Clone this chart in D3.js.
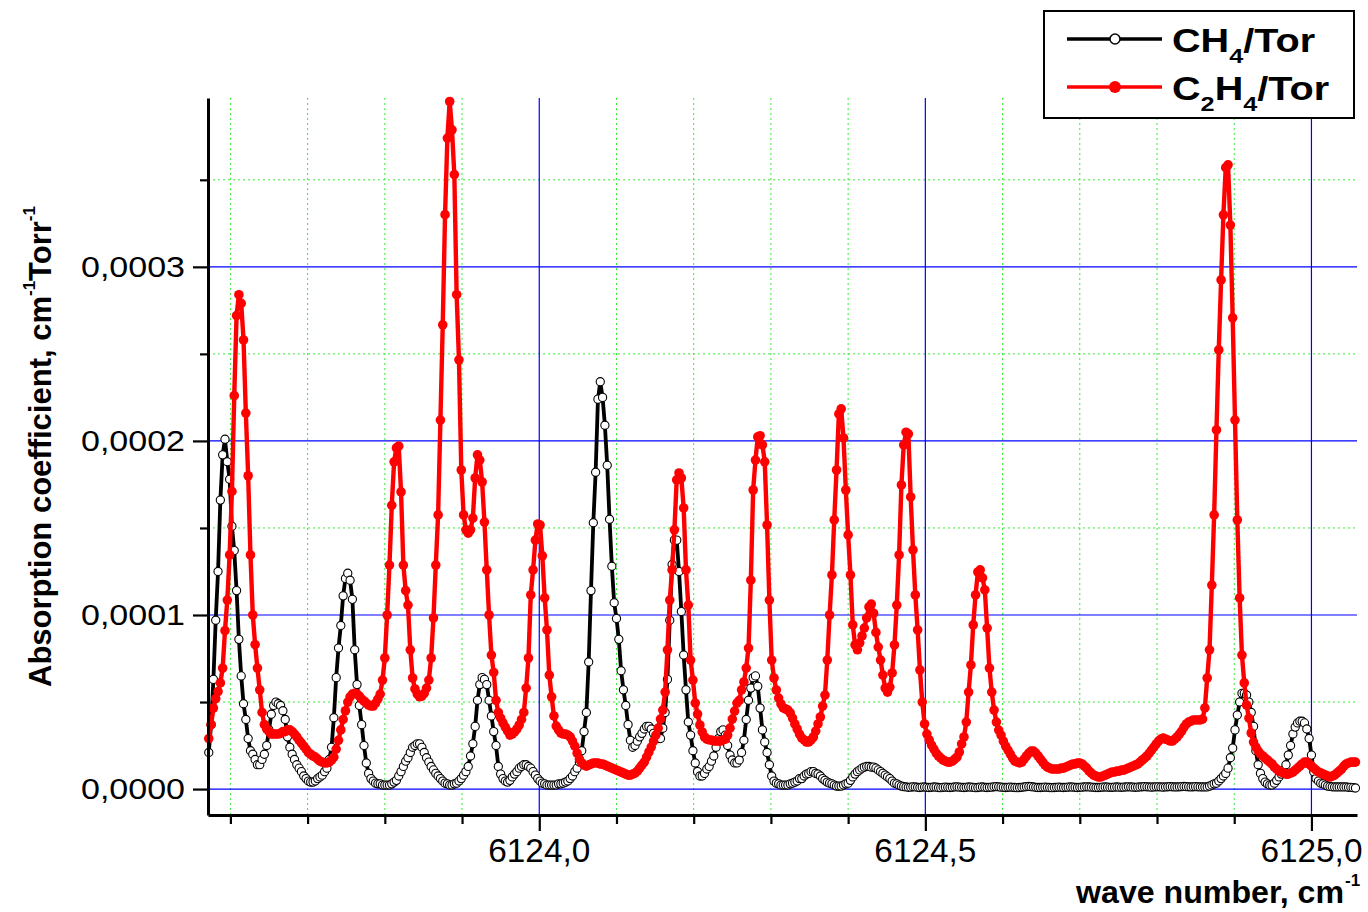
<!DOCTYPE html>
<html>
<head>
<meta charset="utf-8">
<script src="https://cdn.jsdelivr.net/npm/d3@7"></script>
<style>
  body { margin: 0; background: #fff; }
  svg { display: block; }
</style>
</head>
<body>
<svg id="chart" width="1368" height="912"></svg>
<script>
// Spectrum sampling grid (cm^-1)
const wnStart = 6123.572;
const wnStep = 0.003;

// Absorption coefficients in units of 1e-6 cm^-1 Torr^-1
const UNIT = 1e-6;

const ch4 = [
  21, 37, 63, 97, 125, 166, 192, 201, 188, 178,
  151, 137, 114, 86, 65, 49, 40, 29, 22, 20,
  17, 14, 14, 17, 20, 25, 34, 43, 48, 50,
  49, 48, 45, 40, 30, 24, 20, 17, 14, 12,
  10, 7.5, 6, 4.6, 4, 4, 4.6, 6, 7, 8,
  10, 12, 17, 24, 41, 64, 81, 94, 111, 121,
  124, 120, 109, 80, 60, 48, 37, 25, 15, 9,
  6, 4.6, 3.4, 3, 3, 2.3, 2.3, 2.3, 2.3, 3,
  4, 5, 7.5, 10, 13, 16, 18, 21, 24, 25,
  26, 26, 24, 21, 18, 15.5, 13, 11, 9, 7.5,
  6, 4.6, 3.4, 3, 2.3, 2.3, 3, 3.4, 4.6, 6,
  8, 10, 13, 19, 26, 36, 51, 60, 64, 63,
  60, 51, 42, 33, 25, 13, 8.6, 6, 4.6, 4,
  5, 7, 8.6, 10, 12, 13, 14, 14, 13, 12,
  10, 8, 6, 4.6, 3.4, 3, 2.3, 2.3, 2.3, 2.3,
  2.3, 3, 3, 3.4, 4, 4.6, 6, 7.5, 10, 12,
  15.5, 22, 33, 44, 73, 114, 153, 182, 224, 234,
  225, 209, 186, 155, 128, 107, 98, 86, 68, 57,
  48, 37, 28, 24, 25, 27.5, 30, 32, 34.5, 36,
  36, 34.5, 32, 30, 29, 29, 35, 44, 63, 97,
  129, 143, 143, 125, 102, 77, 57, 38.5, 31, 22,
  15, 10, 7.5, 7.5, 9, 11.5, 13, 16, 19, 24,
  29, 33, 34, 31, 25, 19.5, 16.7, 15, 15, 16.7,
  21, 28, 40, 51, 58, 64, 65, 59, 46.5, 34,
  27, 21, 14, 7.5, 4.6, 3.4, 3, 2.3, 2.3, 2.3,
  2.3, 3, 3.4, 4, 4.6, 6, 6, 7.5, 8.6, 9,
  10, 10, 9, 8.6, 7.5, 6, 5, 4, 3.4, 3,
  2.3, 1.7, 1.7, 1.7, 2.3, 3, 3.4, 5, 7, 8.6,
  10, 11, 12, 12.6, 13, 13, 12.6, 12.6, 12, 11,
  10, 9, 8, 7, 6, 4.6, 3.4, 3, 2.3, 1.7,
  1.4, 1.2, 1.0, 1.1, 1.3, 1.2, 1.0, 0.9, 1.1, 1.2,
  1.0, 0.9, 1.0, 1.2, 1.1, 0.9, 0.8, 1.0, 1.1, 1.0,
  0.9, 1.0, 1.2, 1.3, 1.1, 1.0, 0.9, 1.0, 1.2, 1.1,
  1.0, 0.8, 0.9, 1.1, 1.2, 1.0, 0.9, 1.0, 1.1, 1.3,
  1.4, 1.3, 1.1, 1.0, 0.9, 1.0, 1.1, 1.0, 0.9, 0.8,
  0.9, 1.0, 1.2, 1.4, 1.5, 1.4, 1.2, 1.0, 0.9, 0.9,
  1.0, 1.1, 1.0, 0.9, 0.8, 0.9, 1.0, 1.1, 1.0, 0.9,
  1.0, 1.1, 1.2, 1.1, 1.0, 0.9, 1.0, 1.1, 1.2, 1.3,
  1.2, 1.1, 1.0, 0.9, 0.9, 1.0, 1.1, 1.2, 1.1, 1.0,
  1.0, 1.1, 1.2, 1.1, 1.0, 1.1, 1.2, 1.3, 1.2, 1.1,
  1.0, 1.1, 1.2, 1.3, 1.4, 1.3, 1.2, 1.1, 1.2, 1.3,
  1.3, 1.2, 1.1, 1.2, 1.3, 1.4, 1.3, 1.2, 1.2, 1.3,
  1.4, 1.5, 1.4, 1.3, 1.2, 1.3, 1.4, 1.3, 1.2, 1.2,
  1.2, 1.2, 1.7, 2.3, 3, 3.4, 4.6, 6, 7.5, 9,
  12, 18, 23.5, 34, 42.5, 50, 55, 55, 54, 50,
  44, 36, 22, 14, 9, 6, 4, 3, 2.3, 2.3,
  3.4, 5, 7, 8.6, 11, 14, 19.5, 25, 31.6, 35.6,
  38, 39, 39, 38, 34.5, 29, 19.5, 10, 6, 4.6,
  3.4, 3, 2.3, 1.7, 1.5, 1.3, 1.2, 1.2, 1.2, 1.2,
  1.2, 1.2, 1.0, 1.0, 0.8, 0.6
];

const c2h4 = [
  29, 37, 46.5, 52, 56, 61, 69.5, 91, 108.6, 134.5,
  171, 226, 272, 284, 279, 258, 216, 180, 134.5, 100,
  83, 69.5, 57, 44, 37, 34.5, 33, 31.6, 31.6, 31.6,
  31.6, 32, 33, 33, 34, 34, 33, 31.6, 30, 28,
  26.4, 24.7, 23, 21, 20, 19, 18.4, 17.2, 16, 15.5,
  15, 15, 15.5, 16.7, 18.4, 23, 28, 34, 40, 45,
  50, 53, 54.6, 55, 54.6, 53.4, 51.7, 50.6, 49.4, 48.3,
  47.7, 47.7, 49.4, 51.7, 54.6, 62.6, 75.3, 100, 128.7, 163,
  188, 196, 197, 170.7, 128.7, 114, 105.7, 80, 63.8, 57.5,
  54.6, 53, 53.4, 55, 58, 62.6, 75.3, 98.3, 128.7, 157.5,
  212, 266.7, 330, 374, 395, 378.7, 353, 284, 246.6, 183.3,
  157.5, 148.9, 147, 148.9, 155.7, 178.7, 192, 189, 176.4, 153.4,
  125.9, 100, 77, 67, 51, 44, 40.8, 38, 35.6, 33.3,
  31, 31.6, 32.8, 34.5, 36.8, 40, 44, 58, 75.3, 111.5,
  125.9, 143, 152.3, 151.7, 134, 109.8, 91.4, 65.5, 53, 42,
  36.2, 34, 32.2, 31.6, 31.6, 31, 30, 27.6, 24.7, 20.7,
  17.2, 15, 13.8, 13.2, 13.8, 14.4, 15, 15, 15, 14.4,
  14.4, 13.8, 13.2, 12.6, 12, 11.5, 10.9, 10.3, 9.8, 9.2,
  8.6, 8, 8, 8.6, 9.2, 10.3, 12, 13.8, 15.5, 18.4,
  21.3, 24.1, 27.6, 31, 35, 40.2, 45.4, 55.7, 80, 108.6,
  125.9, 148.9, 177.6, 181.6, 178.7, 161.5, 125.9, 105.7, 74.1, 62.6,
  49.4, 43.1, 36.8, 32.8, 29.9, 28.7, 28.2, 28.2, 27.6, 27.6,
  27.6, 27.6, 28.2, 28.7, 31, 35, 40.2, 44.8, 49.4, 51,
  57, 61.5, 69.5, 81, 120, 171.8, 189, 202.3, 203, 197.7,
  188, 151.7, 108.6, 74.1, 63.8, 56.9, 52.3, 48.9, 46.6, 46,
  45.4, 43.7, 40.8, 37.4, 34.5, 31.6, 29.3, 28.2, 27, 27,
  28.2, 29.9, 33.3, 37.4, 41.4, 47.7, 54, 74.1, 100, 123,
  154.6, 183.3, 215.5, 218.4, 201.7, 171.8, 146, 123, 94.3, 82.8,
  80, 84, 88, 92.5, 98.3, 104.6, 106.3, 101, 90, 81.6,
  74.1, 65.5, 58, 55.7, 58.6, 66.7, 82.8, 105.7, 134.5, 174.7,
  197.7, 205, 204, 167.8, 137.4, 111.5, 91.4, 68.4, 50, 37.4,
  31.6, 28.2, 25.3, 23, 20.7, 19, 17.8, 16.7, 16, 15.5,
  15.5, 16, 17.2, 18.4, 21.3, 25.9, 29.9, 38.5, 55.7, 71.3,
  94.3, 111.5, 124.7, 125.9, 121.3, 114.4, 92.5, 69.5, 55.7, 45.4,
  38.5, 33.9, 31, 27.6, 24.7, 22.4, 20.1, 17.8, 16, 15.5,
  15, 15.5, 17.2, 19, 20.7, 21.8, 21.8, 20.7, 19, 17.2,
  15.5, 13.8, 12.6, 12, 11.5, 11.5, 11.5, 11.5, 12, 12,
  12.6, 13.2, 13.8, 14.4, 14.4, 15, 15, 14.4, 13.2, 12,
  10.3, 9.2, 8, 7.5, 6.9, 6.9, 7.5, 8, 8.6, 9.2,
  9.8, 9.8, 10.3, 10.3, 10.9, 10.9, 11.5, 12, 12.6, 13.2,
  13.8, 14.4, 15.5, 16.7, 17.8, 19, 20.7, 22.4, 24.1, 25.9,
  27.6, 28.7, 29.3, 28.7, 28.2, 27.6, 27.6, 28.7, 29.9, 31.6,
  33.3, 35.6, 37.4, 38.5, 39, 39.7, 39.7, 39.7, 39.7, 40.2,
  46.6, 63.8, 80, 117.2, 157.5, 206.3, 252.3, 292.5, 329.9, 357,
  358.6, 324, 270.7, 212, 154.6, 109.8, 77, 61, 48.3, 40.8,
  32.2, 27, 24.1, 21.8, 20.1, 19, 17.8, 16.7, 15.5, 14.4,
  12.6, 11.5, 10.3, 9.8, 9.2, 8.6, 8.6, 9.2, 9.8, 10.9,
  12, 13.2, 14.4, 15.5, 15.5, 14.4, 13.2, 12, 10.9, 9.8,
  9.2, 8.6, 8, 7.5, 6.9, 7.5, 8, 9.2, 10.3, 11.5,
  13.2, 14.4, 15, 15.5, 15.5, 15.5
];

// Axis ticks and labels
const xMajorTicks = [6124.0, 6124.5, 6125.0];
const xMajorLabels = ["6124,0", "6124,5", "6125,0"];
const xMinorTicks = [6123.6, 6123.7, 6123.8, 6123.9, 6124.1, 6124.2, 6124.3, 6124.4,
                     6124.6, 6124.7, 6124.8, 6124.9];
const yMajorTicks = [0, 0.0001, 0.0002, 0.0003];
const yMajorLabels = ["0,0000", "0,0001", "0,0002", "0,0003"];
const yMinorTicks = [0.00005, 0.00015, 0.00025, 0.00035];

const seriesNames = ["CH4/Tor", "C2H4/Tor"];

// ---------------------------------------------------------------
const svg = d3.select("#chart");
const plot = { left: 208, right: 1357, top: 98, bottom: 815 };

const x = d3.scaleLinear().domain([6123.571, 6125.059]).range([plot.left, plot.right]);
const y = d3.scaleLinear().domain([-0.0000149, 0.000397]).range([plot.bottom, plot.top]);

const toPoints = arr => arr.map((v, i) => ({ wn: wnStart + i * wnStep, a: v * UNIT }));
const ch4Pts = toPoints(ch4);
const c2h4Pts = toPoints(c2h4);

// Grid: dotted green minor lines, solid blue major lines
const grid = svg.append("g");
grid.selectAll("line.vminor").data(xMinorTicks).join("line")
  .attr("x1", d => x(d)).attr("x2", d => x(d))
  .attr("y1", plot.top).attr("y2", plot.bottom)
  .attr("stroke", "#33ee33").attr("stroke-width", 1).attr("stroke-dasharray", "2,3");
grid.selectAll("line.hminor").data(yMinorTicks).join("line")
  .attr("x1", plot.left).attr("x2", plot.right)
  .attr("y1", d => y(d)).attr("y2", d => y(d))
  .attr("stroke", "#33ee33").attr("stroke-width", 1).attr("stroke-dasharray", "2,3");
grid.selectAll("line.vmajor").data(xMajorTicks).join("line")
  .attr("x1", d => x(d)).attr("x2", d => x(d))
  .attr("y1", plot.top).attr("y2", plot.bottom)
  .attr("stroke", "#0000ff").attr("stroke-width", 1.2);
grid.selectAll("line.hmajor").data(yMajorTicks).join("line")
  .attr("x1", plot.left).attr("x2", plot.right)
  .attr("y1", d => y(d)).attr("y2", d => y(d))
  .attr("stroke", "#0000ff").attr("stroke-width", 1.2);

// Series
const line = d3.line().x(d => x(d.wn)).y(d => y(d.a));

const gCh4 = svg.append("g");
gCh4.append("path").datum(ch4Pts)
  .attr("d", line).attr("fill", "none")
  .attr("stroke", "#000").attr("stroke-width", 3.8).attr("stroke-linejoin", "round");
gCh4.selectAll("circle").data(ch4Pts).join("circle")
  .attr("cx", d => x(d.wn)).attr("cy", d => y(d.a)).attr("r", 4.1)
  .attr("fill", "#fff").attr("stroke", "#000").attr("stroke-width", 1.1);

const gC2h4 = svg.append("g");
gC2h4.append("path").datum(c2h4Pts)
  .attr("d", line).attr("fill", "none")
  .attr("stroke", "#ff0000").attr("stroke-width", 4.4).attr("stroke-linejoin", "round");
gC2h4.selectAll("circle").data(c2h4Pts).join("circle")
  .attr("cx", d => x(d.wn)).attr("cy", d => y(d.a)).attr("r", 4.8)
  .attr("fill", "#ff0000");

// Axes
const axisStyle = g => {
  g.select(".domain").attr("stroke", "#000").attr("stroke-width", 3);
  g.selectAll(".tick line").attr("stroke", "#000").attr("stroke-width", 2.2);
  g.selectAll(".tick text").remove();
};
svg.append("g").attr("transform", `translate(${plot.left},0)`)
  .call(d3.axisLeft(y).tickValues(yMinorTicks).tickSize(8).tickSizeOuter(0).tickFormat(""))
  .call(axisStyle).select(".domain").remove();
svg.append("g").attr("transform", `translate(0,${plot.bottom})`)
  .call(d3.axisBottom(x).tickValues(xMinorTicks).tickSize(9).tickSizeOuter(0).tickFormat(""))
  .call(axisStyle).select(".domain").remove();
svg.append("g").attr("transform", `translate(${plot.left},0)`)
  .call(d3.axisLeft(y).tickValues(yMajorTicks).tickSize(15).tickSizeOuter(0).tickFormat(""))
  .call(axisStyle);
svg.append("g").attr("transform", `translate(0,${plot.bottom})`)
  .call(d3.axisBottom(x).tickValues(xMajorTicks).tickSize(16).tickSizeOuter(0).tickFormat(""))
  .call(axisStyle);

// Tick labels
const font = "'Liberation Sans', Arial, sans-serif";
svg.append("g").selectAll("text").data(yMajorTicks).join("text")
  .attr("x", 185).attr("y", d => y(d) + 10)
  .attr("text-anchor", "end")
  .attr("font-family", font).attr("font-size", 29)
  .attr("textLength", 104).attr("lengthAdjust", "spacingAndGlyphs")
  .text((d, i) => yMajorLabels[i]);

svg.append("g").selectAll("text").data(xMajorTicks).join("text")
  .attr("x", d => x(d)).attr("y", 862)
  .attr("text-anchor", "middle")
  .attr("font-family", font).attr("font-size", 33)
  .attr("textLength", 102).attr("lengthAdjust", "spacingAndGlyphs")
  .text((d, i) => xMajorLabels[i]);

// Axis titles
svg.append("text")
  .attr("x", 1076).attr("y", 903)
  .attr("font-family", font).attr("font-size", 31).attr("font-weight", "bold")
  .attr("textLength", 268).attr("lengthAdjust", "spacingAndGlyphs")
  .text("wave number, cm");
svg.append("text")
  .attr("x", 1345).attr("y", 886)
  .attr("font-family", font).attr("font-size", 17).attr("font-weight", "bold")
  .text("-1");

const yTitle = svg.append("text")
  .attr("transform", "translate(51,687) rotate(-90)")
  .attr("font-family", font).attr("font-size", 31).attr("font-weight", "bold");
yTitle.append("tspan").text("Absorption coefficient, cm");
yTitle.append("tspan").attr("font-size", 17).attr("dy", -16).text("-1");
yTitle.append("tspan").attr("dy", 16).text("Torr");
yTitle.append("tspan").attr("font-size", 17).attr("dy", -16).text("-1");

// Legend
const legend = svg.append("g");
legend.append("rect")
  .attr("x", 1044).attr("y", 11).attr("width", 310).attr("height", 107)
  .attr("fill", "#fff").attr("stroke", "#000").attr("stroke-width", 2);

const legendRows = [
  { y: 39, color: "#000", open: true, parts: [["C", 0], ["H", 0], ["4", 1], ["/Tor", 0]] },
  { y: 87, color: "#ff0000", open: false, parts: [["C", 0], ["2", 1], ["H", 0], ["4", 1], ["/Tor", 0]] }
];
legendRows.forEach((row, k) => {
  legend.append("line")
    .attr("x1", 1067).attr("x2", 1162).attr("y1", row.y).attr("y2", row.y)
    .attr("stroke", row.color).attr("stroke-width", 3.6);
  legend.append("circle")
    .attr("cx", 1115).attr("cy", row.y).attr("r", row.open ? 5 : 6)
    .attr("fill", row.open ? "#fff" : row.color)
    .attr("stroke", row.open ? "#000" : "none").attr("stroke-width", 1.5);
  const t = legend.append("text")
    .attr("transform", `translate(1172,${row.y + 13}) scale(1.2,1)`)
    .attr("font-family", font).attr("font-size", 33).attr("font-weight", "bold")
    .attr("aria-label", seriesNames[k]);
  let prevSub = 0;
  row.parts.forEach(([s, sub]) => {
    const dy = (sub - prevSub) * 11;
    t.append("tspan").attr("dy", dy).attr("font-size", sub ? 21 : 33).text(s);
    prevSub = sub;
  });
});
</script>
</body>
</html>
